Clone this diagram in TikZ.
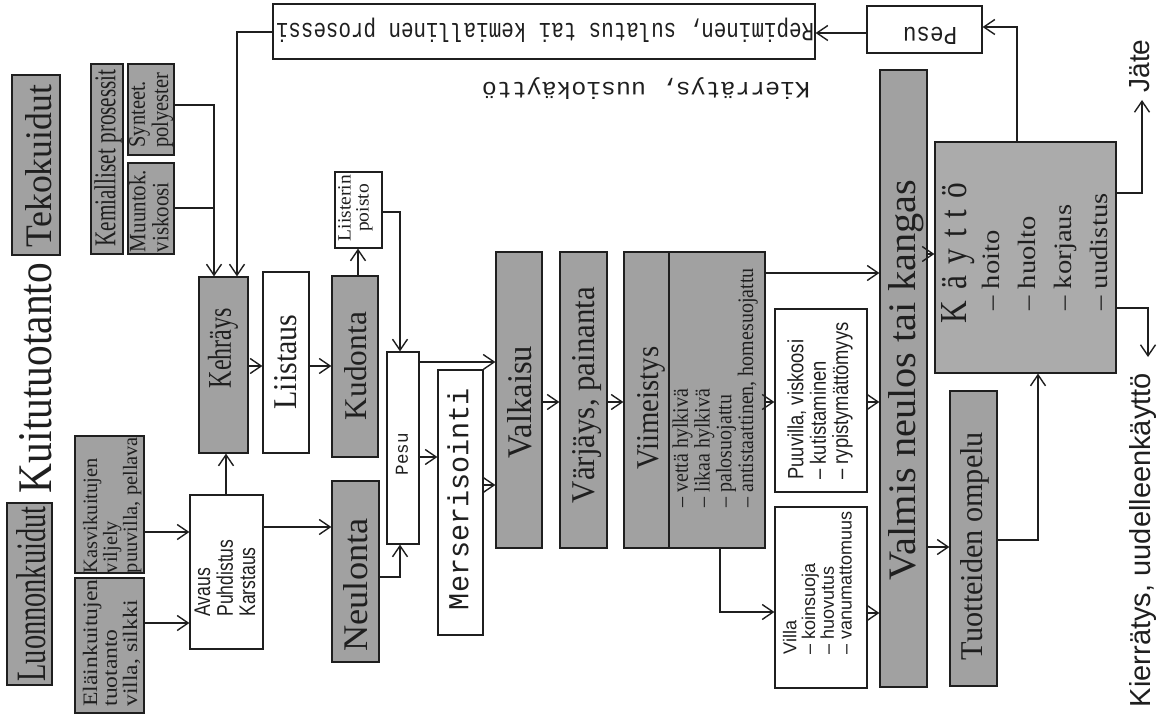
\documentclass[tikz,border=0pt]{standalone}
\usepackage{fontspec}
\setmainfont{Liberation Serif}
\setsansfont{Liberation Sans}
\setmonofont{Liberation Mono}
\usepackage{graphicx}
\usetikzlibrary{arrows.meta}

\definecolor{ink}{gray}{0.12}
\definecolor{boxgray}{gray}{0.63}
\definecolor{usegray}{gray}{0.67}

% text squeezed to a given length and cap height (in pt)
\newcommand\fitto[3]{\resizebox{#1pt}{#2pt}{#3}}
% block of lines squeezed to a given length and total thickness:
% [row stretch] L, T, column, font, lines
\newcommand\fitlines[6][0.8]{\resizebox*{#2pt}{#3pt}{#5\def\arraystretch{#1}\begin{tabular}{@{}#4@{}}#6\end{tabular}}}
% rectangle node given by its corners: name, x1, y1, x2, y2, style
\newcommand\boxat[6]{\node[#6, minimum width={(#4-#2)*1pt}, minimum height={(#5-#3)*1pt}] (#1) at ({(#2+#4)/2},{(#3+#5)/2}) {};}

\begin{document}
\begin{tikzpicture}[x=1pt, y=-1pt,
  gbox/.style={draw=ink, fill=boxgray, line width=1.2pt, inner sep=0pt},
  ubox/.style={draw=ink, fill=usegray, line width=1.2pt, inner sep=0pt},
  wbox/.style={draw=ink, fill=white, line width=1.2pt, inner sep=0pt},
  conn/.style={draw=ink, line width=1.2pt},
  arr/.style={conn, -{Straight Barb[length=11pt, width=15pt, line width=1.4pt]}},
  txt/.style={inner sep=0pt, text=ink},
  up/.style={txt, rotate=90},
  down/.style={txt, rotate=180},
]
\fill[white] (0,0) rectangle (1161,719);
\useasboundingbox (0,0) rectangle (1161,719);

% ---- boxes ----
\boxat{teko}{12}{75}{60}{255}{gbox}
\boxat{luon}{7}{503}{52}{685}{gbox}
\boxat{kem}{91}{64}{123}{254}{gbox}
\boxat{syn}{128}{64}{174}{155}{gbox}
\boxat{muu}{128}{163}{174}{254}{gbox}
\boxat{kasvi}{75}{436}{144}{573}{gbox}
\boxat{elain}{75}{578}{144}{713}{gbox}
\boxat{avaus}{190}{495}{263}{649}{wbox}
\boxat{kehr}{199}{277}{248}{453}{gbox}
\boxat{liis}{263}{272}{309}{453}{wbox}
\boxat{kud}{332}{276}{378}{457}{gbox}
\boxat{neul}{332}{481}{379}{662}{gbox}
\boxat{lpoi}{335}{172}{382}{248}{wbox}
\boxat{pesu}{387}{352}{419}{544}{wbox}
\boxat{mers}{438}{370}{483}{635}{wbox}
\boxat{valk}{496}{252}{542}{548}{gbox}
\boxat{varj}{560}{252}{607}{548}{gbox}
\boxat{viim}{624}{252}{765}{548}{gbox}
\draw[conn] (viim.north -| 669,0) -- (viim.south -| 669,0);
\boxat{puuv}{775}{309}{867}{492}{wbox}
\boxat{villa}{775}{507}{867}{688}{wbox}
\boxat{valmis}{880}{70}{927}{687}{gbox}
\boxat{tuot}{950}{391}{997}{686}{gbox}
\boxat{kaytto}{935}{142}{1116}{373}{ubox}
\boxat{pesu2}{867}{6}{982}{53}{wbox}
\boxat{rep}{273}{4}{815}{59}{wbox}

% ---- texts ----
\node[up] (kuit-t) at (36,378) {\fitto{230}{32}{Kuitutuotanto}};
\node[up] (teko-t) at (39,166) {\fitto{162}{26}{Tekokuidut}};
\node[up] (luon-t) at (31,594) {\fitto{175}{29}{Luonnonkuidut}};
\node[up] (kem-t) at (108,158) {\fitto{177}{21}{Kemialliset prosessit}};
\node[up] (syn-t) at (152,110) {\fitlines{75}{46}{l}{}{Synteet.\\polyester}};
\node[up] (muu-t) at (152,211) {\fitlines{82}{46}{l}{}{Muuntok.\\viskoosi}};
\node[up] (kasvi-t) at (113,505) {\fitlines{136}{60}{l}{}{Kasvikuitujen\\viljely\\puuvilla, pellava}};
\node[up] (elain-t) at (113,643) {\fitlines{127}{60}{l}{}{Eläinkuitujen\\tuotanto\\villa, silkki}};
\node[up] (avaus-t) at (228,578) {\fitlines{77}{67}{l}{\sffamily}{Avaus\\Puhdistus\\Karstaus}};
\node[up] (kehr-t) at (223,348) {\fitto{80}{23}{Kehräys}};
\node[up] (liis-t) at (286,362) {\fitto{95}{22}{Liistaus}};
\node[up] (kud-t) at (356,366) {\fitto{108}{22}{Kudonta}};
\node[up] (neul-t) at (356,585) {\fitto{133}{24}{Neulonta}};
\node[up] (lpoi-t) at (356,208) {\fitlines{66}{36}{c}{}{Liisterin\\poisto}};
\node[up] (pesu-t) at (402,454) {\fitto{42}{12}{\ttfamily Pesu}};
\node[up] (mers-t) at (458,499) {\fitto{222}{21}{\ttfamily Merserisointi}};
\node[up] (valk-t) at (520,402) {\fitto{112}{24}{Valkaisu}};
\node[up] (varj-t) at (587,395) {\fitto{216}{22}{Värjäys, painanta}};
\node[up] (viim-t) at (651,408) {\fitto{123}{21}{Viimeistys}};
\node[up] (viim-l) at (716,388)
  {\fitlines{239}{87}{l}{}{– vettä hylkivä\\– likaa hylkivä\\– palosuojattu\\– antistaattinen, homesuojattu}};
\node[up] (puuv-t) at (821,401)
  {\fitlines{157}{67}{l}{\sffamily}{Puuvilla, viskoosi\\– kutistaminen\\– rypistymättömyys}};
\node[up] (villa-t) at (820,583)
  {\fitlines{143}{74}{l}{\sffamily}{Villa\\– koinsuoja\\– huovutus\\– vanumattomuus}};
\node[up] (valmis-t) at (906,380) {\fitto{400}{27}{Valmis neulos tai kangas}};
\node[up] (tuot-t) at (975,546) {\fitto{228}{22}{Tuotteiden ompelu}};
\node[up] (kaytto-t) at (958,253) {\fitto{140}{25}{K\hspace{0.35em}ä\hspace{0.35em}y\hspace{0.35em}t\hspace{0.35em}t\hspace{0.35em}ö}};
\node[up] (kaytto-l) at (1046,252)
  {\fitlines[1.2]{117}{144}{l}{}{– hoito\\– huolto\\– korjaus\\– uudistus}};
\node[down] (pesu2-t) at (930,36) {\fitto{54}{17}{\ttfamily Pesu}};
\node[down] (rep-t) at (545,30) {\fitto{538}{19}{\ttfamily Repiminen, sulatus tai kemiallinen prosessi}};
\node[down] (uusio-t) at (646,89) {\fitto{328}{17}{\ttfamily Kierrätys, uusiokäyttö}};
\node[up] (jate-t) at (1140,66) {\fitto{53}{20}{\sffamily Jäte}};
\node[up] (uudel-t) at (1143,540) {\fitto{334}{21}{\sffamily Kierrätys, uudelleenkäyttö}};

% ---- connectors ----
\coordinate (jsyn) at (214,208);
\coordinate (jate) at (1142,100);
\coordinate (kierr) at (1148,357);
\draw[arr] (syn.east |- 0,105) -| (kehr.north -| 214,0);
\draw[conn] (muu.east |- jsyn) -- (jsyn);
\draw[arr] (rep.west |- 0,32) -| (kehr.north -| 237,0);
\draw[arr] (kasvi.east |- 0,532) -- (avaus.west |- 0,532);
\draw[arr] (elain.east |- 0,623) -- (avaus.west |- 0,623);
\draw[arr] (avaus.north -| 226,0) -- (kehr.south -| 226,0);
\draw[arr] (kehr.east |- 0,366) -- (liis.west |- 0,366);
\draw[arr] (liis.east |- 0,366) -- (kud.west |- 0,366);
\draw[arr] (kud.north -| 358,0) -- (lpoi.south -| 358,0);
\draw[arr] (lpoi.east |- 0,212) -| (pesu.north -| 400,0);
\draw[arr] (avaus.east |- 0,527) -- (neul.west |- 0,527);
\draw[arr] (neul.east |- 0,577) -| (pesu.south -| 400,0);
\draw[arr] (pesu.east |- 0,362) -- (valk.west |- 0,362);
\draw[arr] (pesu.east |- 0,457) -- (mers.west |- 0,457);
\draw[arr] (mers.east |- 0,485) -- (valk.west |- 0,485);
\draw[arr] (valk.east |- 0,402) -- (varj.west |- 0,402);
\draw[arr] (varj.east |- 0,402) -- (viim.west |- 0,402);
\draw[arr] (viim.east |- 0,273) -- (valmis.west |- 0,273);
\draw[arr] (viim.east |- 0,402) -- (puuv.west |- 0,402);
\draw[arr] (puuv.east |- 0,402) -- (valmis.west |- 0,402);
\draw[arr] (viim.south -| 720,0) |- (villa.west |- 0,612);
\draw[arr] (villa.east |- 0,613) -- (valmis.west |- 0,613);
\draw[arr] (valmis.east |- 0,547) -- (tuot.west |- 0,547);
\draw[arr] (tuot.east |- 0,540) -| (kaytto.south -| 1038,0);
\draw[arr] (valmis.east |- 0,254) -- (kaytto.west |- 0,254);
\draw[arr] (kaytto.north -| 1017,0) |- (pesu2.east |- 0,27);
\draw[arr] (pesu2.west |- 0,33) -- (rep.east |- 0,33);
\draw[arr] (kaytto.east |- 0,193) -| (jate);
\draw[arr] (kaytto.east |- 0,308) -| (kierr);
\end{tikzpicture}
\end{document}
